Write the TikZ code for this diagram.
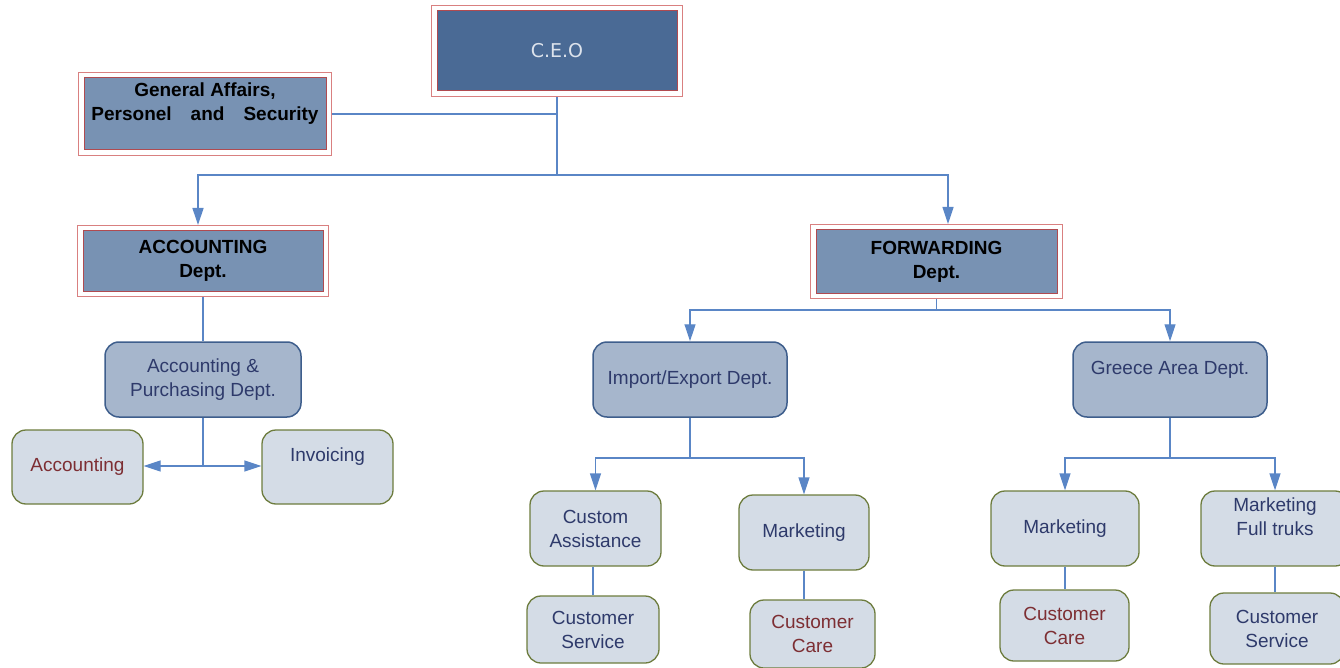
\documentclass[tikz,border=0pt]{standalone}
\usepackage{fontspec}
\setmainfont{Liberation Sans}
\newfontfamily\ceofont{DejaVu Sans}
\usetikzlibrary{arrows.meta}
\definecolor{linec}{HTML}{5A86C6}
\definecolor{ceoc}{HTML}{4A6A95}
\definecolor{ceotext}{HTML}{DDE3EC}
\definecolor{deptc}{HTML}{7892B3}
\definecolor{redin}{HTML}{B04A50}
\definecolor{redout}{HTML}{D98080}
\definecolor{ltwoc}{HTML}{A6B6CC}
\definecolor{ltwob}{HTML}{3E5E8C}
\definecolor{lthreec}{HTML}{D4DCE6}
\definecolor{lthreeb}{HTML}{6D7C3E}
\definecolor{navy}{HTML}{2E3A6B}
\definecolor{redtext}{HTML}{7D2E33}
\tikzset{
  conn/.style={draw=linec, line width=1.3pt},
  arr/.style={conn, -{Triangle[length=17pt,width=11pt]}},
  deptbox/.style={fill=deptc, draw=redin, line width=1pt, inner sep=0pt, outer sep=6pt,
    align=center, font=\bfseries\fontsize{19}{24}\selectfont, text=black,
    preaction={draw=redout, line width=12.5pt}, preaction={draw=white, line width=10pt}},
  ceobox/.style={deptbox, fill=ceoc, text=ceotext, font=\ceofont\fontsize{19}{24}\selectfont},
  ltwo/.style={rounded corners=14pt, fill=ltwoc, draw=ltwob, line width=1.5pt, inner sep=0pt,
    align=center, text=navy, font=\fontsize{19}{24}\selectfont},
  lthree/.style={ltwo, fill=lthreec, draw=lthreeb, line width=1.3pt},
  redtxt/.style={text=redtext}
}
\begin{document}
\begin{tikzpicture}[x=1pt,y=-1pt]
\useasboundingbox (0,0) rectangle (1340,668);
% level 0/1
\node[ceobox, minimum width=240pt, minimum height=80pt] (ceo) at (557,51) {C.E.O};
\node[deptbox, minimum width=242pt, minimum height=72pt] (ga) at (205,114)
  {General Affairs,\\Personel\hspace{19pt}and\hspace{19pt}Security\\\mbox{}};
\node[deptbox, minimum width=240pt, minimum height=60pt] (acc) at (203,261) {ACCOUNTING\\Dept.};
\node[deptbox, minimum width=241pt, minimum height=63pt] (fwd) at (936.5,261.5) {FORWARDING\\Dept.};
% level 2
\node[ltwo, minimum width=196pt, minimum height=75pt] (ap) at (203,379.5) {Accounting \&\\Purchasing Dept.};
\node[ltwo, minimum width=194pt, minimum height=75pt] (imp) at (690,379.5) {Import/Export Dept.};
\node[ltwo, minimum width=194pt, minimum height=75pt] (gre) at (1170,379.5) {Greece Area Dept.\\\mbox{}};
% level 3
\node[lthree, redtxt, minimum width=131pt, minimum height=74pt] (accg) at (77.5,467) {Accounting};
\node[lthree, minimum width=131pt, minimum height=74pt] (inv) at (327.5,467) {Invoicing\\\mbox{}};
\node[lthree, minimum width=131pt, minimum height=75pt] (ca) at (595.5,528.5) {Custom\\Assistance};
\node[lthree, minimum width=130pt, minimum height=75pt] (mkone) at (804,532.5) {Marketing};
\node[lthree, minimum width=132pt, minimum height=67pt] (csone) at (593,629.5) {Customer\\Service};
\node[lthree, redtxt, minimum width=125pt, minimum height=68pt] (ccone) at (812.5,634) {Customer\\Care};
\node[lthree, minimum width=148pt, minimum height=75pt] (mktwo) at (1065,528.5) {Marketing};
\node[lthree, minimum width=148pt, minimum height=75pt] (mft) at (1275,528.5) {Marketing\\Full truks\\\mbox{}};
\node[lthree, redtxt, minimum width=129pt, minimum height=71pt] (cctwo) at (1064.5,625.5) {Customer\\Care};
\node[lthree, minimum width=134pt, minimum height=71pt] (cstwo) at (1277,628.5) {Customer\\Service};
% junctions
\coordinate (jone) at (557,175);
\coordinate (jtwo) at (203,466);
\coordinate (jthree) at (936.5,310);
\coordinate (jfour) at (690,458);
\coordinate (jfive) at (1170,458);
% connectors
\draw[conn] (ceo.south) -- (jone);
\draw[conn] (ga.east) -- (ga.east -| ceo.south);
\draw[arr] (jone) -| ([xshift=-5pt]acc.north);
\draw[arr] (jone) -| ([xshift=11.5pt]fwd.north);
\draw[conn] (acc.south) -- (ap.north);
\draw[conn] (ap.south) -- (jtwo);
\draw[arr] (jtwo) -- (jtwo -| accg.east);
\draw[arr] (jtwo) -- (jtwo -| inv.west);
\draw[conn] (fwd.south) -- (jthree);
\draw[arr] (jthree) -| (imp.north);
\draw[arr] (jthree) -| (gre.north);
\draw[conn] (imp.south) -- (jfour);
\draw[arr] (jfour) -| (ca.north);
\draw[arr] (jfour) -| (mkone.north);
\draw[conn] (gre.south) -- (jfive);
\draw[arr] (jfive) -| (mktwo.north);
\draw[arr] (jfive) -| (mft.north);
\draw[conn] (csone.north |- ca.south) -- (csone.north);
\draw[conn] (mkone.south) -- (mkone.south |- ccone.north);
\draw[conn] (mktwo.south) -- (mktwo.south |- cctwo.north);
\draw[conn] (mft.south) -- (mft.south |- cstwo.north);
\end{tikzpicture}
\end{document}
